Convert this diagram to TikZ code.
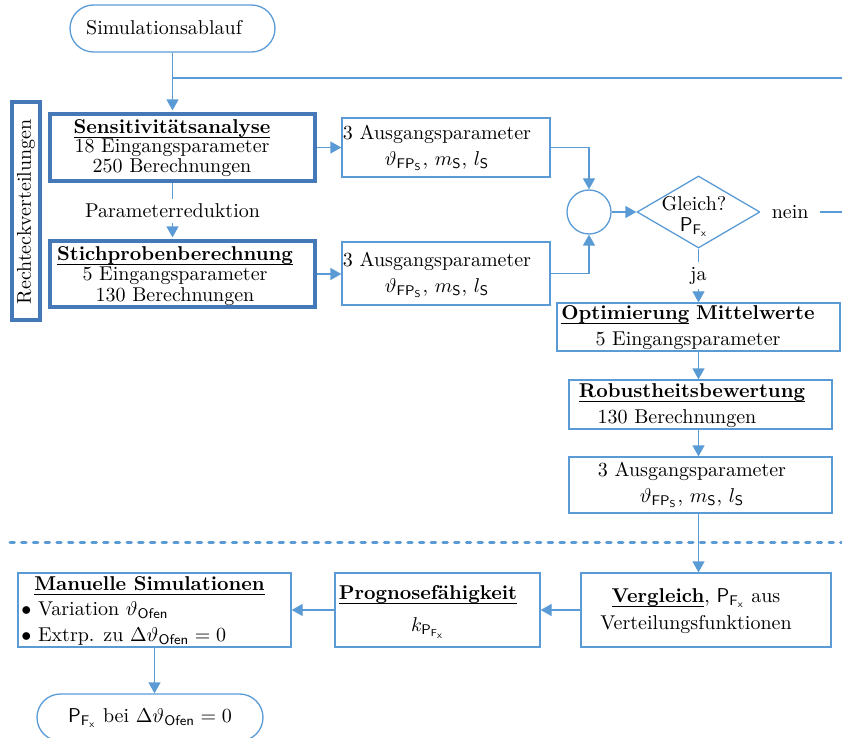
\documentclass[tikz,border=0pt]{standalone}
\usetikzlibrary{arrows.meta,shapes.geometric}
\definecolor{lineblue}{RGB}{91,155,213}
\definecolor{frameblue}{RGB}{68,120,182}
% bold heading with a rule just below the baseline
\newsavebox{\headbox}
\newcommand{\ulbf}[1]{\sbox{\headbox}{\textbf{#1}}\rlap{\rule[-2.2pt]{\wd\headbox}{0.45pt}}\usebox{\headbox}}

\begin{document}
\begin{tikzpicture}[x=0.5pt,y=-0.5pt,
  flow/.style={draw=lineblue, line width=0.65pt},
  arr/.style={flow, -{Triangle[length=5.5pt,width=6pt]}},
  box/.style={draw=lineblue, line width=0.65pt, rectangle, inner sep=0pt},
  heavybox/.style={draw=frameblue, line width=1.8pt, rectangle, inner sep=0pt},
  term/.style={draw=lineblue, line width=0.65pt, rectangle, rounded corners=11.75pt,
               inner sep=0pt, minimum height=23.5pt},
  txt/.style={inner sep=0pt, align=center, font=\fontsize{10}{13}\selectfont},
  lbl/.style={fill=white, inner sep=2.5pt, font=\fontsize{10}{12}\selectfont},
  sepline/.style={draw=lineblue, line width=1.5pt, line cap=round,
                  dash pattern=on 2.2pt off 3.65pt}
]
\useasboundingbox (0,0) rectangle (842,738);

% start terminal
\node[term, minimum width=102.5pt] (start) at (172.5,28.5) {};
\node[txt] (startT) at (164,28) {Simulationsablauf};

% vertical frame
\node[heavybox, minimum width=14pt, minimum height=109pt] (rv) at (26,211) {};
\node[txt, rotate=90] (rvT) at (26,212) {Rechteckverteilungen};

% left column
\node[heavybox, minimum width=132.5pt, minimum height=33.5pt] (sens) at (182.5,147.5) {};
\node[txt, font=\fontsize{10}{9.8}\selectfont] (sensT) at (172,148)
  {\ulbf{Sensitivitätsanalyse}\\18 Eingangsparameter\\250 Berechnungen};

\node[heavybox, minimum width=132.5pt, minimum height=33pt] (stich) at (182.5,274) {};
\node[txt, font=\fontsize{10}{10.2}\selectfont] (stichT) at (175,276)
  {\ulbf{Stichprobenberechnung}\\5 Eingangsparameter\\130 Berechnungen};

% output boxes
\node[box, minimum width=104pt, minimum height=29.5pt] (out1) at (446,147.5) {};
\node[txt] (out1T) at (437,148)
  {3 Ausgangsparameter\\$\vartheta_{\mathsf{FP}_\mathsf{S}}$, $m_\mathsf{S}$, $l_\mathsf{S}$};

\node[box, minimum width=104pt, minimum height=31.5pt] (out2) at (446,273.5) {};
\node[txt] (out2T) at (437,275)
  {3 Ausgangsparameter\\$\vartheta_{\mathsf{FP}_\mathsf{S}}$, $m_\mathsf{S}$, $l_\mathsf{S}$};

% junction and decision
\node[draw=lineblue, line width=0.65pt, circle, minimum size=22pt, inner sep=0pt] (circ) at (589,212) {};
\node[draw=lineblue, line width=0.65pt, diamond, minimum width=61.5pt, minimum height=36pt,
      inner sep=0pt] (dia) at (698.5,212) {};
\node[txt, font=\fontsize{10}{10.5}\selectfont] (diaT) at (694,216.5)
  {Gleich?\\$\mathsf{P}_{\mathsf{F}_\mathsf{x}}$};

% right column
\node[box, minimum width=141.5pt, minimum height=24pt] (opt) at (698.5,327) {};
\node[txt] (optT) at (688,328)
  {\ulbf{Optimierung} \textbf{Mittelwerte}\\5 Eingangsparameter};

\node[box, minimum width=131.5pt, minimum height=24.5pt] (rob) at (700.5,404.5) {};
\node[txt] (robT) at (692,406)
  {\ulbf{Robustheitsbewertung}\\130 Berechnungen\hspace*{15pt}};

\node[box, minimum width=131.5pt, minimum height=28pt] (out3) at (700.5,485) {};
\node[txt] (out3T) at (692,485)
  {3 Ausgangsparameter\\$\vartheta_{\mathsf{FP}_\mathsf{S}}$, $m_\mathsf{S}$, $l_\mathsf{S}$};

% separator
\coordinate (sepL) at (10,542);
\coordinate (sepR) at (850,542);
\draw[sepline] (sepL) -- (sepR);

% bottom row
\node[box, minimum width=125pt, minimum height=37pt] (verg) at (706,610) {};
\node[txt, font=\fontsize{10}{13.5}\selectfont] (vergT) at (696,611)
  {\ulbf{Vergleich}, $\mathsf{P}_{\mathsf{F}_\mathsf{x}}$ aus\\Verteilungsfunktionen};

\node[box, minimum width=102.5pt, minimum height=37pt] (prog) at (437.5,610) {};
\node[txt, font=\fontsize{10}{16}\selectfont] (progT) at (428,612)
  {\ulbf{Prognosefähigkeit}\\$k_{\mathsf{P}_{\mathsf{F}_\mathsf{x}}}$};

\node[box, minimum width=136.5pt, minimum height=37pt] (man) at (154.5,610) {};
\node[txt, align=left, anchor=west, font=\fontsize{10}{12.75}\selectfont] (manT) at (21,610.5)
  {\hspace*{6.5pt}\ulbf{Manuelle Simulationen}\\
   $\bullet$ Variation $\vartheta_\mathsf{Ofen}$\\
   $\bullet$ Extrp. zu $\Delta\vartheta_\mathsf{Ofen}=0$};

% end terminal
\node[term, minimum width=113pt] (endt) at (150,717.5) {};
\node[txt] (endT) at (150,718)
  {$\mathsf{P}_{\mathsf{F}_\mathsf{x}}$ bei $\Delta\vartheta_\mathsf{Ofen}=0$};

% connectors
\draw[arr, shorten >=0.9pt] (start.south) -- (start.south |- sens.north);
\coordinate (loopL) at (172.5,78);
\coordinate (loopR) at (850,78);
\draw[flow] (loopL) -- (loopR);
\draw[arr, shorten >=0.9pt] (start.south |- sens.south) -- (start.south |- stich.north)
  node[lbl, midway] (red) {Parameterreduktion};
\draw[arr] (sens.east) -- (out1.west);
\draw[arr] (stich.east) -- (stich.east -| out2.west);
\draw[arr] (out1.east) -| (circ.north);
\draw[arr] (out2.east) -| (circ.south);
\draw[arr] (circ.east) -- (dia.west);
\coordinate (neinR) at (850,212);
\draw[flow] (dia.east) -- (neinR)
  node[lbl, inner xsep=6pt, pos=0.33] (nein) {nein};
\draw[arr] (dia.south) -- (dia.south |- opt.north) node[lbl, midway] (ja) {ja};
\draw[arr] (dia.south |- opt.south) -- (dia.south |- rob.north);
\draw[arr] (dia.south |- rob.south) -- (dia.south |- out3.north);
\draw[arr] (dia.south |- out3.south) -- (dia.south |- verg.north);
\draw[arr] (verg.west) -- (prog.east);
\draw[arr] (prog.west) -- (man.east);
\draw[arr] (man.south) -- (man.south |- endt.north);
\end{tikzpicture}
\end{document}
